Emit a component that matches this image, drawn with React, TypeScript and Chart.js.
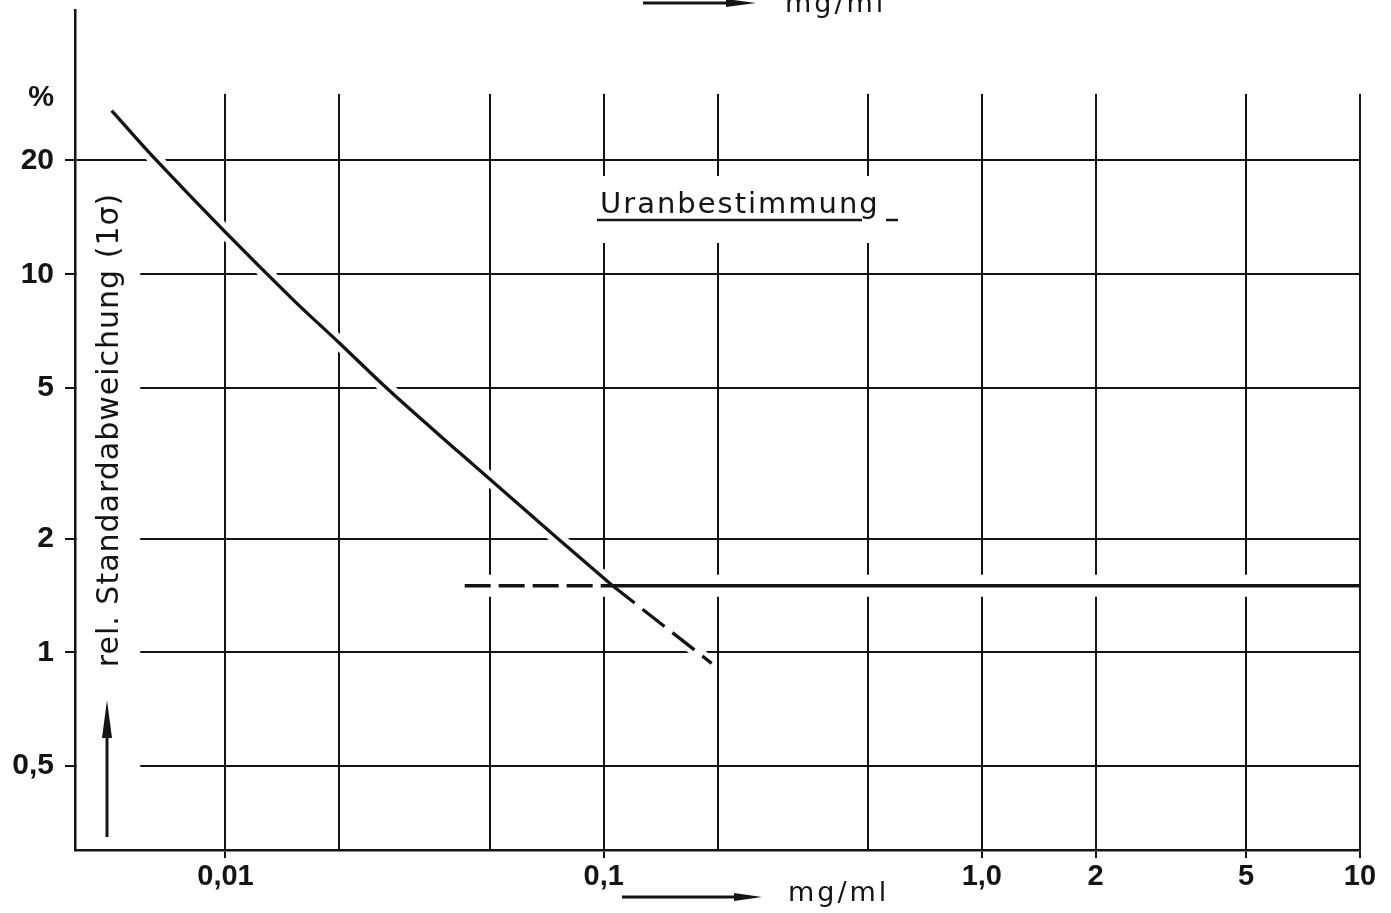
import React, { useEffect, useRef } from "react";
import { Chart, registerables } from "chart.js";

Chart.register(...registerables);

// ---- data ----
const xTicks = [0.01, 0.02, 0.05, 0.1, 0.2, 0.5, 1, 2, 5, 10];
const xTickLabels = ["0,01", "", "", "0,1", "", "", "1,0", "2", "5", "10"];
const xTickMarked = [0.01, 0.1, 1, 2, 5, 10];
const yTicks = [0.5, 1, 2, 5, 10, 20];
const yTickLabels = ["0,5", "1", "2", "5", "10", "20"];

// measured curve (solid)
const curveX = [0.005, 0.00657, 0.01513, 0.02, 0.02667, 0.0416, 0.0756, 0.1056];
const curveY = [27.1, 20.0, 8.54, 6.58, 5.0, 3.37, 2.0, 1.5];
// extrapolation of the curve (dashed)
const extX = [0.1056, 0.193];
const extY = [1.5, 0.935];
// plateau (solid) and its dashed continuation to the left
const plateauX = [0.1056, 10];
const plateauY = [1.5, 1.5];
const plateauDashX = [0.0429, 0.1056];
const plateauDashY = [1.5, 1.5];

const xMin = 0.004;
const xMax = 10;
const yMin = 0.3;
const yMax = 50;
const gridTopValue = 30;

const yTitle = "rel. Standardabweichung (1σ)";
const heading = "Uranbestimmung";
const unitLabel = "mg/ml";
const percentLabel = "%";

const INK = "#141414";
const NUM_FONT = '"Liberation Sans", Arial, sans-serif';
const TXT_FONT = '"DejaVu Sans", "Liberation Sans", sans-serif';

function pts(xs: number[], ys: number[]) {
  return xs.map((x, i) => ({ x, y: ys[i] }));
}

function arrowH(ctx: CanvasRenderingContext2D, x0: number, x1: number, y: number, head: number, half: number) {
  ctx.beginPath();
  ctx.moveTo(x0, y);
  ctx.lineTo(x1 - head + 4, y);
  ctx.stroke();
  ctx.beginPath();
  ctx.moveTo(x1, y);
  ctx.lineTo(x1 - head, y - half);
  ctx.lineTo(x1 - head, y + half);
  ctx.closePath();
  ctx.fill();
}

function arrowV(ctx: CanvasRenderingContext2D, x: number, y0: number, y1: number, head: number, half: number) {
  ctx.beginPath();
  ctx.moveTo(x, y0);
  ctx.lineTo(x, y1 + head - 4);
  ctx.stroke();
  ctx.beginPath();
  ctx.moveTo(x, y1);
  ctx.lineTo(x - half, y1 + head);
  ctx.lineTo(x + half, y1 + head);
  ctx.closePath();
  ctx.fill();
}

const decor = {
  id: "decor",
  beforeDatasetsDraw(chart: any) {
    const { ctx, chartArea: a, scales } = chart;
    const x = scales.x;
    const y = scales.y;
    ctx.save();
    ctx.fillStyle = "#ffffff";
    // grid starts below the top of the axis
    ctx.fillRect(a.left + 2, 0, chart.width, y.getPixelForValue(gridTopValue));
    // gap for the vertical axis title
    const t = y.getPixelForValue(17.5);
    ctx.fillRect(a.left + 2, t, x.getPixelForValue(0.00595) - a.left - 2, a.bottom - 2 - t);
    // gap for the heading
    ctx.fillRect(592, 176, 306, 67);
    ctx.restore();
  },
  afterDraw(chart: any) {
    const { ctx } = chart;
    ctx.save();
    ctx.fillStyle = INK;
    ctx.strokeStyle = INK;

    // percent sign
    ctx.font = `bold 29px ${NUM_FONT}`;
    ctx.textAlign = "right";
    ctx.textBaseline = "alphabetic";
    ctx.fillText(percentLabel, 54, 106);

    // vertical axis title
    ctx.save();
    ctx.translate(118, 430);
    ctx.rotate(-Math.PI / 2);
    ctx.font = `30px ${TXT_FONT}`;
    (ctx as any).letterSpacing = "1px";
    ctx.textAlign = "center";
    ctx.fillText(yTitle, 0, 0);
    ctx.restore();

    // vertical arrow
    ctx.lineWidth = 3;
    arrowV(ctx, 107, 837, 700, 38, 5);

    // heading
    ctx.font = `29px ${TXT_FONT}`;
    (ctx as any).letterSpacing = "2px";
    ctx.textAlign = "left";
    ctx.fillText(heading, 600, 213);
    ctx.lineWidth = 2.5;
    ctx.beginPath();
    ctx.moveTo(597, 220);
    ctx.lineTo(862, 220);
    ctx.moveTo(886, 220);
    ctx.lineTo(898, 220);
    ctx.stroke();

    // bottom unit label with arrow
    ctx.lineWidth = 3;
    arrowH(ctx, 622, 762, 897, 28, 4);
    ctx.font = `27px ${TXT_FONT}`;
    (ctx as any).letterSpacing = "3px";
    ctx.fillText(unitLabel, 788, 901);

    // fragment of the previous figure cut at the top edge
    arrowH(ctx, 643, 756, 3, 30, 4);
    ctx.fillText(unitLabel, 785, 12);

    ctx.restore();
  },
};

export default function App() {
  const ref = useRef<HTMLCanvasElement>(null);

  useEffect(() => {
    const canvas = ref.current;
    if (!canvas) return;

    const halo = (data: any[], w: number, smooth = false) => ({
      data,
      borderColor: "#ffffff",
      borderWidth: w,
      pointRadius: 0,
      showLine: true,
      order: 1,
      borderCapStyle: "butt",
      cubicInterpolationMode: smooth ? "monotone" : "default",
      clip: { left: 0, top: 0, right: -3, bottom: 0 },
    });
    const ink = (data: any[], dash: number[] = [], smooth = false) => ({
      data,
      borderColor: INK,
      borderWidth: 3.3,
      borderDash: dash,
      pointRadius: 0,
      showLine: true,
      order: 0,
      borderCapStyle: "butt",
      borderJoinStyle: "round",
      cubicInterpolationMode: smooth ? "monotone" : "default",
    });

    const curve = pts(curveX, curveY);
    const ext = pts(extX, extY);
    const plateau = pts(plateauX, plateauY);
    const plateauDash = pts(plateauDashX, plateauDashY);

    const chart = new Chart(canvas, {
      type: "scatter",
      data: {
        datasets: [
          halo(curve, 14, true),
          halo(ext, 12),
          halo(plateau, 22),
          halo(plateauDash, 22),
          ink(curve, [], true),
          ink(ext, [28, 10]),
          ink(plateau),
          ink(plateauDash, [26, 8]),
        ] as any,
      },
      options: {
        animation: false,
        responsive: false,
        devicePixelRatio: 1,
        layout: { padding: { left: 0, top: 10, right: 31, bottom: 0 } },
        plugins: {
          legend: { display: false },
          tooltip: { enabled: false },
          title: { display: false },
        },
        scales: {
          x: {
            type: "logarithmic",
            min: xMin,
            max: xMax,
            afterBuildTicks: (axis: any) => {
              axis.ticks = xTicks.map((v) => ({ value: v }));
            },
            afterFit: (scale: any) => {
              scale.height = 63;
              scale.paddingLeft = 0;
              scale.paddingRight = 0;
            },
            ticks: {
              autoSkip: false,
              maxRotation: 0,
              minRotation: 0,
              padding: 2,
              color: INK,
              font: { family: NUM_FONT, size: 29, weight: "bold" },
              callback: (_v: any, i: number) => xTickLabels[i],
            },
            grid: {
              color: INK,
              lineWidth: 2,
              tickLength: 8,
              tickColor: (c: any) =>
                c.tick && xTickMarked.includes(c.tick.value) ? INK : "rgba(0,0,0,0)",
            },
            border: { display: true, color: INK, width: 2.5 },
          },
          y: {
            type: "logarithmic",
            min: yMin,
            max: yMax,
            afterBuildTicks: (axis: any) => {
              axis.ticks = yTicks.map((v) => ({ value: v }));
            },
            afterFit: (scale: any) => {
              scale.width = 75;
              scale.paddingTop = 0;
              scale.paddingBottom = 0;
            },
            ticks: {
              autoSkip: false,
              padding: 11,
              color: INK,
              font: { family: NUM_FONT, size: 30, weight: "bold" },
              callback: (_v: any, i: number) => yTickLabels[i],
            },
            grid: {
              color: INK,
              lineWidth: 2,
              tickLength: 10,
              tickColor: INK,
            },
            border: { display: true, color: INK, width: 2.5 },
          },
        },
      } as any,
      plugins: [decor],
    });

    return () => chart.destroy();
  }, []);

  return (
    <div
      style={{
        position: "absolute",
        left: 0,
        top: 0,
        width: 1391,
        height: 913,
        background: "#ffffff",
        overflow: "hidden",
      }}
    >
      <canvas ref={ref} width={1391} height={913} style={{ display: "block", width: 1391, height: 913 }} />
    </div>
  );
}
